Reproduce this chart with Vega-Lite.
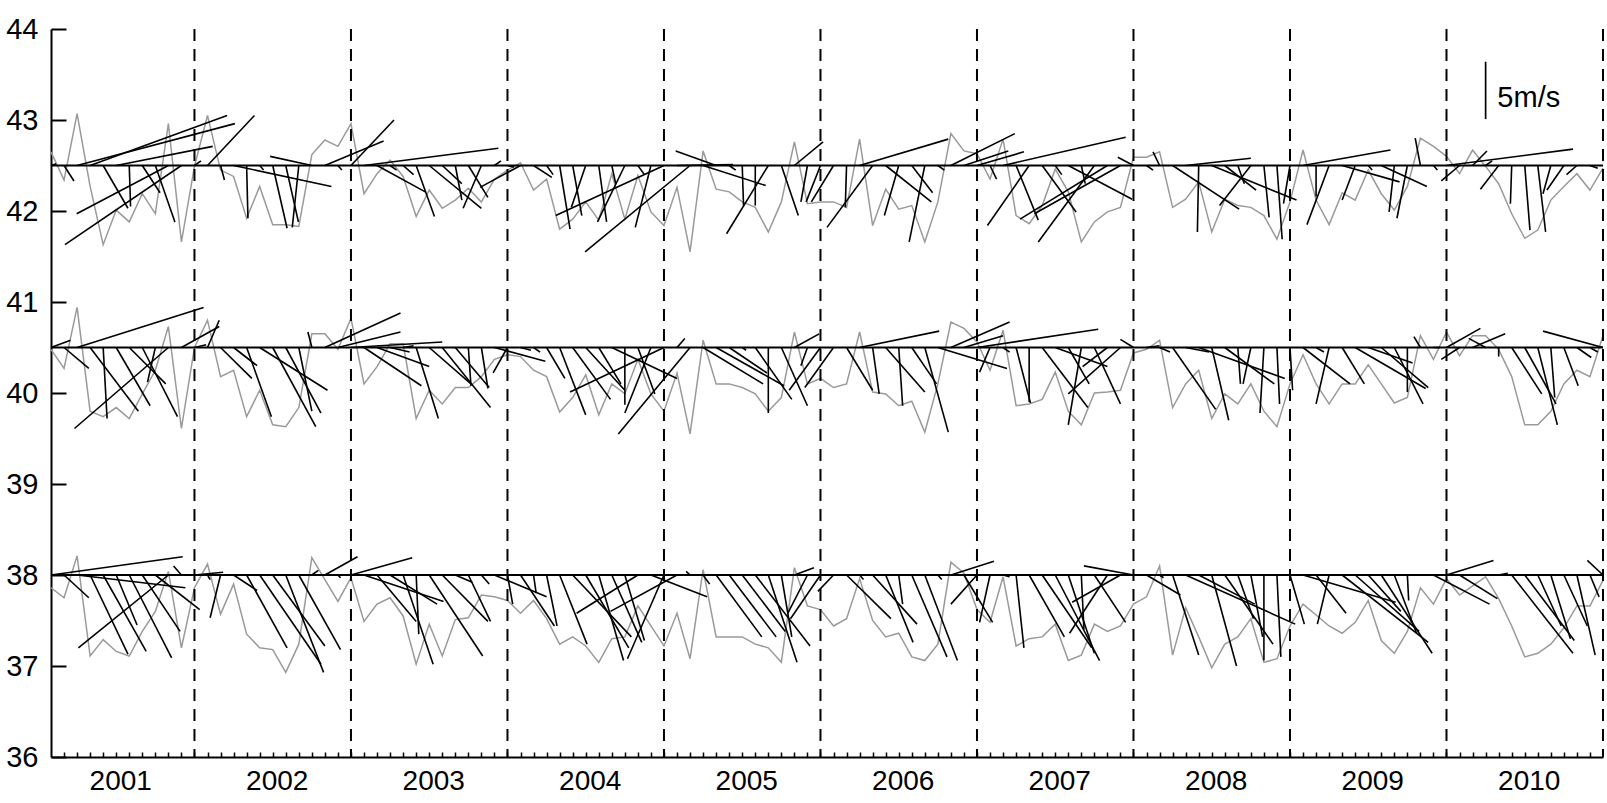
{
"$schema":"https://vega.github.io/schema/vega-lite/v6.json",
"width":1552,"height":728,
"autosize":{"type":"none"},
"padding":{"left":51,"top":29,"right":4,"bottom":46},
"background":"white",
"config":{"view":{"stroke":null},"font":"Liberation Sans"},
"resolve":{"axis":{"x":"independent","y":"independent"}},
"datasets":{
"gray":[
{"b":1,"t":1,"v":42.65},{"b":1,"t":2,"v":42.34},{"b":1,"t":3,"v":43.07},{"b":1,"t":4,"v":42.27},{"b":1,"t":5,"v":41.63},{"b":1,"t":6,"v":42.01},{"b":1,"t":7,"v":41.88},{"b":1,"t":8,"v":42.19},{"b":1,"t":9,"v":41.97},{"b":1,"t":10,"v":42.96},{"b":1,"t":11,"v":41.66},{"b":1,"t":12,"v":42.49},{"b":1,"t":13,"v":43.05},{"b":1,"t":14,"v":42.45},{"b":1,"t":15,"v":42.38},{"b":1,"t":16,"v":41.92},{"b":1,"t":17,"v":42.27},{"b":1,"t":18,"v":41.85},{"b":1,"t":19,"v":41.85},{"b":1,"t":20,"v":41.83},{"b":1,"t":21,"v":42.62},{"b":1,"t":22,"v":42.78},{"b":1,"t":23,"v":42.71},{"b":1,"t":24,"v":42.96},{"b":1,"t":25,"v":42.19},{"b":1,"t":26,"v":42.41},{"b":1,"t":27,"v":42.56},{"b":1,"t":28,"v":42.38},{"b":1,"t":29,"v":41.94},{"b":1,"t":30,"v":42.23},{"b":1,"t":31,"v":42.03},{"b":1,"t":32,"v":42.12},{"b":1,"t":33,"v":42.25},{"b":1,"t":34,"v":42.1},{"b":1,"t":35,"v":42.35},{"b":1,"t":36,"v":42.45},{"b":1,"t":37,"v":42.53},{"b":1,"t":38,"v":42.23},{"b":1,"t":39,"v":42.35},{"b":1,"t":40,"v":41.8},{"b":1,"t":41,"v":41.91},{"b":1,"t":42,"v":42.1},{"b":1,"t":43,"v":41.9},{"b":1,"t":44,"v":42.41},{"b":1,"t":45,"v":41.91},{"b":1,"t":46,"v":42.39},{"b":1,"t":47,"v":41.99},{"b":1,"t":48,"v":41.84},{"b":1,"t":49,"v":42.26},{"b":1,"t":50,"v":41.55},{"b":1,"t":51,"v":42.66},{"b":1,"t":52,"v":42.24},{"b":1,"t":53,"v":42.21},{"b":1,"t":54,"v":42.1},{"b":1,"t":55,"v":42.04},{"b":1,"t":56,"v":41.77},{"b":1,"t":57,"v":42.1},{"b":1,"t":58,"v":42.76},{"b":1,"t":59,"v":42.08},{"b":1,"t":60,"v":42.1},{"b":1,"t":61,"v":42.1},{"b":1,"t":62,"v":42.04},{"b":1,"t":63,"v":42.79},{"b":1,"t":64,"v":41.84},{"b":1,"t":65,"v":42.24},{"b":1,"t":66,"v":42.02},{"b":1,"t":67,"v":42.06},{"b":1,"t":68,"v":41.66},{"b":1,"t":69,"v":42.1},{"b":1,"t":70,"v":42.85},{"b":1,"t":71,"v":42.66},{"b":1,"t":72,"v":42.63},{"b":1,"t":73,"v":42.35},{"b":1,"t":74,"v":42.79},{"b":1,"t":75,"v":41.95},{"b":1,"t":76,"v":41.86},{"b":1,"t":77,"v":42.06},{"b":1,"t":78,"v":42.46},{"b":1,"t":79,"v":42.21},{"b":1,"t":80,"v":41.66},{"b":1,"t":81,"v":41.88},{"b":1,"t":82,"v":41.99},{"b":1,"t":83,"v":42.04},{"b":1,"t":84,"v":42.59},{"b":1,"t":85,"v":42.59},{"b":1,"t":86,"v":42.65},{"b":1,"t":87,"v":42.04},{"b":1,"t":88,"v":42.13},{"b":1,"t":89,"v":42.32},{"b":1,"t":90,"v":41.77},{"b":1,"t":91,"v":42.13},{"b":1,"t":92,"v":42.06},{"b":1,"t":93,"v":42.04},{"b":1,"t":94,"v":41.95},{"b":1,"t":95,"v":41.69},{"b":1,"t":96,"v":42.1},{"b":1,"t":97,"v":42.67},{"b":1,"t":98,"v":42.12},{"b":1,"t":99,"v":41.85},{"b":1,"t":100,"v":42.2},{"b":1,"t":101,"v":42.12},{"b":1,"t":102,"v":42.45},{"b":1,"t":103,"v":42.19},{"b":1,"t":104,"v":42.01},{"b":1,"t":105,"v":42.27},{"b":1,"t":106,"v":42.8},{"b":1,"t":107,"v":42.71},{"b":1,"t":108,"v":42.6},{"b":1,"t":109,"v":42.41},{"b":1,"t":110,"v":42.67},{"b":1,"t":111,"v":42.49},{"b":1,"t":112,"v":42.3},{"b":1,"t":113,"v":41.97},{"b":1,"t":114,"v":41.7},{"b":1,"t":115,"v":41.79},{"b":1,"t":116,"v":42.12},{"b":1,"t":117,"v":42.27},{"b":1,"t":118,"v":42.41},{"b":1,"t":119,"v":42.23},{"b":1,"t":120,"v":42.47},
{"b":2,"t":1,"v":40.48},{"b":2,"t":2,"v":40.27},{"b":2,"t":3,"v":40.94},{"b":2,"t":4,"v":39.8},{"b":2,"t":5,"v":39.74},{"b":2,"t":6,"v":39.84},{"b":2,"t":7,"v":39.72},{"b":2,"t":8,"v":39.99},{"b":2,"t":9,"v":40.25},{"b":2,"t":10,"v":40.73},{"b":2,"t":11,"v":39.61},{"b":2,"t":12,"v":40.5},{"b":2,"t":13,"v":40.8},{"b":2,"t":14,"v":40.18},{"b":2,"t":15,"v":40.25},{"b":2,"t":16,"v":39.74},{"b":2,"t":17,"v":40.03},{"b":2,"t":18,"v":39.65},{"b":2,"t":19,"v":39.63},{"b":2,"t":20,"v":39.84},{"b":2,"t":21,"v":40.65},{"b":2,"t":22,"v":40.65},{"b":2,"t":23,"v":40.48},{"b":2,"t":24,"v":40.82},{"b":2,"t":25,"v":40.1},{"b":2,"t":26,"v":40.29},{"b":2,"t":27,"v":40.54},{"b":2,"t":28,"v":40.54},{"b":2,"t":29,"v":39.72},{"b":2,"t":30,"v":40.03},{"b":2,"t":31,"v":39.88},{"b":2,"t":32,"v":40.06},{"b":2,"t":33,"v":40.06},{"b":2,"t":34,"v":40.18},{"b":2,"t":35,"v":40.37},{"b":2,"t":36,"v":40.42},{"b":2,"t":37,"v":40.4},{"b":2,"t":38,"v":40.25},{"b":2,"t":39,"v":40.18},{"b":2,"t":40,"v":39.79},{"b":2,"t":41,"v":39.95},{"b":2,"t":42,"v":40.2},{"b":2,"t":43,"v":39.76},{"b":2,"t":44,"v":40.1},{"b":2,"t":45,"v":39.99},{"b":2,"t":46,"v":40.37},{"b":2,"t":47,"v":39.99},{"b":2,"t":48,"v":39.8},{"b":2,"t":49,"v":40.22},{"b":2,"t":50,"v":39.55},{"b":2,"t":51,"v":40.58},{"b":2,"t":52,"v":40.1},{"b":2,"t":53,"v":40.1},{"b":2,"t":54,"v":40.06},{"b":2,"t":55,"v":39.99},{"b":2,"t":56,"v":39.8},{"b":2,"t":57,"v":39.95},{"b":2,"t":58,"v":40.67},{"b":2,"t":59,"v":40.1},{"b":2,"t":60,"v":40.16},{"b":2,"t":61,"v":40.06},{"b":2,"t":62,"v":40.1},{"b":2,"t":63,"v":40.67},{"b":2,"t":64,"v":40.01},{"b":2,"t":65,"v":39.99},{"b":2,"t":66,"v":39.86},{"b":2,"t":67,"v":39.91},{"b":2,"t":68,"v":39.57},{"b":2,"t":69,"v":40.1},{"b":2,"t":70,"v":40.78},{"b":2,"t":71,"v":40.71},{"b":2,"t":72,"v":40.56},{"b":2,"t":73,"v":40.25},{"b":2,"t":74,"v":40.69},{"b":2,"t":75,"v":39.86},{"b":2,"t":76,"v":39.88},{"b":2,"t":77,"v":39.93},{"b":2,"t":78,"v":40.23},{"b":2,"t":79,"v":39.8},{"b":2,"t":80,"v":39.65},{"b":2,"t":81,"v":40.0},{"b":2,"t":82,"v":40.01},{"b":2,"t":83,"v":40.03},{"b":2,"t":84,"v":40.44},{"b":2,"t":85,"v":40.48},{"b":2,"t":86,"v":40.58},{"b":2,"t":87,"v":39.84},{"b":2,"t":88,"v":40.1},{"b":2,"t":89,"v":40.25},{"b":2,"t":90,"v":39.72},{"b":2,"t":91,"v":39.99},{"b":2,"t":92,"v":39.88},{"b":2,"t":93,"v":40.1},{"b":2,"t":94,"v":39.8},{"b":2,"t":95,"v":39.63},{"b":2,"t":96,"v":40.1},{"b":2,"t":97,"v":40.42},{"b":2,"t":98,"v":40.1},{"b":2,"t":99,"v":39.88},{"b":2,"t":100,"v":40.1},{"b":2,"t":101,"v":40.1},{"b":2,"t":102,"v":40.31},{"b":2,"t":103,"v":40.1},{"b":2,"t":104,"v":39.89},{"b":2,"t":105,"v":39.95},{"b":2,"t":106,"v":40.63},{"b":2,"t":107,"v":40.37},{"b":2,"t":108,"v":40.67},{"b":2,"t":109,"v":40.41},{"b":2,"t":110,"v":40.63},{"b":2,"t":111,"v":40.63},{"b":2,"t":112,"v":40.48},{"b":2,"t":113,"v":40.18},{"b":2,"t":114,"v":39.65},{"b":2,"t":115,"v":39.65},{"b":2,"t":116,"v":39.8},{"b":2,"t":117,"v":40.1},{"b":2,"t":118,"v":40.25},{"b":2,"t":119,"v":40.18},{"b":2,"t":120,"v":40.63},
{"b":3,"t":1,"v":37.86},{"b":3,"t":2,"v":37.75},{"b":3,"t":3,"v":38.21},{"b":3,"t":4,"v":37.11},{"b":3,"t":5,"v":37.29},{"b":3,"t":6,"v":37.16},{"b":3,"t":7,"v":37.11},{"b":3,"t":8,"v":37.38},{"b":3,"t":9,"v":37.6},{"b":3,"t":10,"v":38.04},{"b":3,"t":11,"v":37.2},{"b":3,"t":12,"v":37.86},{"b":3,"t":13,"v":38.12},{"b":3,"t":14,"v":37.57},{"b":3,"t":15,"v":37.9},{"b":3,"t":16,"v":37.35},{"b":3,"t":17,"v":37.2},{"b":3,"t":18,"v":37.18},{"b":3,"t":19,"v":36.93},{"b":3,"t":20,"v":37.24},{"b":3,"t":21,"v":38.19},{"b":3,"t":22,"v":37.95},{"b":3,"t":23,"v":37.71},{"b":3,"t":24,"v":37.97},{"b":3,"t":25,"v":37.49},{"b":3,"t":26,"v":37.68},{"b":3,"t":27,"v":37.75},{"b":3,"t":28,"v":37.55},{"b":3,"t":29,"v":37.02},{"b":3,"t":30,"v":37.46},{"b":3,"t":31,"v":37.11},{"b":3,"t":32,"v":37.51},{"b":3,"t":33,"v":37.53},{"b":3,"t":34,"v":37.78},{"b":3,"t":35,"v":37.76},{"b":3,"t":36,"v":37.72},{"b":3,"t":37,"v":37.58},{"b":3,"t":38,"v":37.72},{"b":3,"t":39,"v":37.52},{"b":3,"t":40,"v":37.24},{"b":3,"t":41,"v":37.32},{"b":3,"t":42,"v":37.22},{"b":3,"t":43,"v":37.04},{"b":3,"t":44,"v":37.3},{"b":3,"t":45,"v":37.32},{"b":3,"t":46,"v":37.66},{"b":3,"t":47,"v":37.44},{"b":3,"t":48,"v":37.22},{"b":3,"t":49,"v":37.58},{"b":3,"t":50,"v":37.08},{"b":3,"t":51,"v":38.06},{"b":3,"t":52,"v":37.32},{"b":3,"t":53,"v":37.32},{"b":3,"t":54,"v":37.32},{"b":3,"t":55,"v":37.24},{"b":3,"t":56,"v":37.2},{"b":3,"t":57,"v":37.04},{"b":3,"t":58,"v":38.08},{"b":3,"t":59,"v":37.66},{"b":3,"t":60,"v":37.62},{"b":3,"t":61,"v":37.44},{"b":3,"t":62,"v":37.52},{"b":3,"t":63,"v":37.96},{"b":3,"t":64,"v":37.5},{"b":3,"t":65,"v":37.32},{"b":3,"t":66,"v":37.36},{"b":3,"t":67,"v":37.1},{"b":3,"t":68,"v":37.06},{"b":3,"t":69,"v":37.24},{"b":3,"t":70,"v":38.14},{"b":3,"t":71,"v":38.02},{"b":3,"t":72,"v":37.62},{"b":3,"t":73,"v":37.48},{"b":3,"t":74,"v":37.98},{"b":3,"t":75,"v":37.22},{"b":3,"t":76,"v":37.3},{"b":3,"t":77,"v":37.32},{"b":3,"t":78,"v":37.46},{"b":3,"t":79,"v":37.06},{"b":3,"t":80,"v":37.12},{"b":3,"t":81,"v":37.46},{"b":3,"t":82,"v":37.38},{"b":3,"t":83,"v":37.44},{"b":3,"t":84,"v":37.68},{"b":3,"t":85,"v":37.76},{"b":3,"t":86,"v":38.1},{"b":3,"t":87,"v":37.12},{"b":3,"t":88,"v":37.64},{"b":3,"t":89,"v":37.32},{"b":3,"t":90,"v":36.98},{"b":3,"t":91,"v":37.24},{"b":3,"t":92,"v":37.32},{"b":3,"t":93,"v":37.52},{"b":3,"t":94,"v":37.04},{"b":3,"t":95,"v":37.08},{"b":3,"t":96,"v":37.44},{"b":3,"t":97,"v":37.68},{"b":3,"t":98,"v":37.56},{"b":3,"t":99,"v":37.44},{"b":3,"t":100,"v":37.36},{"b":3,"t":101,"v":37.48},{"b":3,"t":102,"v":37.72},{"b":3,"t":103,"v":37.28},{"b":3,"t":104,"v":37.14},{"b":3,"t":105,"v":37.38},{"b":3,"t":106,"v":37.86},{"b":3,"t":107,"v":37.68},{"b":3,"t":108,"v":37.96},{"b":3,"t":109,"v":37.78},{"b":3,"t":110,"v":37.88},{"b":3,"t":111,"v":37.98},{"b":3,"t":112,"v":37.74},{"b":3,"t":113,"v":37.44},{"b":3,"t":114,"v":37.1},{"b":3,"t":115,"v":37.14},{"b":3,"t":116,"v":37.24},{"b":3,"t":117,"v":37.42},{"b":3,"t":118,"v":37.66},{"b":3,"t":119,"v":37.66},{"b":3,"t":120,"v":37.94}
],
"sticks":[
{"t":1,"y0":42.5,"t2":1.4,"y2":42.52},{"t":2,"y0":42.5,"t2":2.76,"y2":42.33},{"t":3,"y0":42.5,"t2":15.1,"y2":42.96},{"t":4,"y0":42.5,"t2":14.5,"y2":43.05},{"t":5,"y0":42.5,"t2":6.9,"y2":42.03},{"t":6,"y0":42.5,"t2":13.4,"y2":42.71},{"t":7,"y0":42.5,"t2":7.1,"y2":42.05},{"t":8,"y0":42.5,"t2":9.36,"y2":42.2},{"t":9,"y0":42.5,"t2":10.5,"y2":41.88},{"t":10,"y0":42.5,"t2":2.97,"y2":41.97},{"t":11,"y0":42.5,"t2":2.07,"y2":41.63},{"t":12,"y0":42.5,"t2":12.5,"y2":42.55},{"t":13,"y0":42.5,"t2":16.6,"y2":43.05},{"t":14,"y0":42.5,"t2":14.3,"y2":42.34},{"t":15,"y0":42.5,"t2":22.5,"y2":42.27},{"t":16,"y0":42.5,"t2":16.1,"y2":41.92},{"t":17,"y0":42.5,"t2":17.3,"y2":42.45},{"t":18,"y0":42.5,"t2":19.1,"y2":41.81},{"t":19,"y0":42.5,"t2":19.97,"y2":41.88},{"t":20,"y0":42.5,"t2":19.5,"y2":41.82},{"t":21,"y0":42.5,"t2":17.8,"y2":42.6},{"t":22,"y0":42.5,"t2":26.5,"y2":42.77},{"t":23,"y0":42.5,"t2":23.3,"y2":42.45},{"t":24,"y0":42.5,"t2":27.3,"y2":43.0},{"t":25,"y0":42.5,"t2":35.3,"y2":42.69},{"t":26,"y0":42.5,"t2":29.7,"y2":42.21},{"t":27,"y0":42.5,"t2":27.5,"y2":42.45},{"t":28,"y0":42.5,"t2":28.8,"y2":42.4},{"t":29,"y0":42.5,"t2":30.4,"y2":41.94},{"t":30,"y0":42.5,"t2":34.0,"y2":42.03},{"t":31,"y0":42.5,"t2":32.5,"y2":42.3},{"t":32,"y0":42.5,"t2":32.5,"y2":42.12},{"t":33,"y0":42.5,"t2":34.5,"y2":42.15},{"t":34,"y0":42.5,"t2":32.6,"y2":42.03},{"t":35,"y0":42.5,"t2":35.5,"y2":42.55},{"t":36,"y0":42.5,"t2":36.5,"y2":42.48},{"t":37,"y0":42.5,"t2":33.9,"y2":42.26},{"t":38,"y0":42.5,"t2":39.4,"y2":42.37},{"t":39,"y0":42.5,"t2":39.5,"y2":42.4},{"t":40,"y0":42.5,"t2":40.8,"y2":41.8},{"t":41,"y0":42.5,"t2":41.7,"y2":41.95},{"t":42,"y0":42.5,"t2":40.9,"y2":42.04},{"t":43,"y0":42.5,"t2":43.6,"y2":41.88},{"t":44,"y0":42.5,"t2":44.3,"y2":42.3},{"t":45,"y0":42.5,"t2":42.9,"y2":41.88},{"t":46,"y0":42.5,"t2":46.5,"y2":42.4},{"t":47,"y0":42.5,"t2":45.8,"y2":41.82},{"t":48,"y0":42.5,"t2":39.7,"y2":41.95},{"t":49,"y0":42.5,"t2":53.3,"y2":42.51},{"t":50,"y0":42.5,"t2":41.95,"y2":41.55},{"t":51,"y0":42.5,"t2":55.8,"y2":42.28},{"t":52,"y0":42.5,"t2":48.9,"y2":42.66},{"t":53,"y0":42.5,"t2":53.5,"y2":42.45},{"t":54,"y0":42.5,"t2":54.1,"y2":42.06},{"t":55,"y0":42.5,"t2":55.0,"y2":42.06},{"t":56,"y0":42.5,"t2":52.8,"y2":41.75},{"t":57,"y0":42.5,"t2":58.3,"y2":41.95},{"t":58,"y0":42.5,"t2":60.2,"y2":42.76},{"t":59,"y0":42.5,"t2":58.5,"y2":42.1},{"t":60,"y0":42.5,"t2":58.9,"y2":42.1},{"t":61,"y0":42.5,"t2":59.3,"y2":42.1},{"t":62,"y0":42.5,"t2":61.9,"y2":42.04},{"t":63,"y0":42.5,"t2":69.8,"y2":42.79},{"t":64,"y0":42.5,"t2":60.5,"y2":41.82},{"t":65,"y0":42.5,"t2":68.5,"y2":42.1},{"t":66,"y0":42.5,"t2":64.9,"y2":41.95},{"t":67,"y0":42.5,"t2":68.6,"y2":42.2},{"t":68,"y0":42.5,"t2":66.8,"y2":41.66},{"t":69,"y0":42.5,"t2":69.5,"y2":42.45},{"t":70,"y0":42.5,"t2":74.9,"y2":42.85},{"t":71,"y0":42.5,"t2":74.4,"y2":42.66},{"t":72,"y0":42.5,"t2":75.6,"y2":42.65},{"t":73,"y0":42.5,"t2":73.5,"y2":42.35},{"t":74,"y0":42.5,"t2":83.4,"y2":42.81},{"t":75,"y0":42.5,"t2":76.7,"y2":41.9},{"t":76,"y0":42.5,"t2":72.8,"y2":41.84},{"t":77,"y0":42.5,"t2":79.6,"y2":41.99},{"t":78,"y0":42.5,"t2":78.5,"y2":42.4},{"t":79,"y0":42.5,"t2":83.9,"y2":42.13},{"t":80,"y0":42.5,"t2":80.3,"y2":42.3},{"t":81,"y0":42.5,"t2":76.7,"y2":41.66},{"t":82,"y0":42.5,"t2":75.3,"y2":41.91},{"t":83,"y0":42.5,"t2":76.4,"y2":41.97},{"t":84,"y0":42.5,"t2":82.8,"y2":42.59},{"t":85,"y0":42.5,"t2":85.5,"y2":42.45},{"t":86,"y0":42.5,"t2":85.5,"y2":42.65},{"t":87,"y0":42.5,"t2":92.1,"y2":42.02},{"t":88,"y0":42.5,"t2":93.0,"y2":42.58},{"t":89,"y0":42.5,"t2":88.9,"y2":41.77},{"t":90,"y0":42.5,"t2":96.5,"y2":42.12},{"t":91,"y0":42.5,"t2":93.4,"y2":42.23},{"t":92,"y0":42.5,"t2":92.5,"y2":42.3},{"t":93,"y0":42.5,"t2":90.6,"y2":42.06},{"t":94,"y0":42.5,"t2":94.4,"y2":41.93},{"t":95,"y0":42.5,"t2":95.4,"y2":41.69},{"t":96,"y0":42.5,"t2":95.5,"y2":42.08},{"t":97,"y0":42.5,"t2":103.7,"y2":42.67},{"t":98,"y0":42.5,"t2":98.0,"y2":42.16},{"t":99,"y0":42.5,"t2":97.3,"y2":41.85},{"t":100,"y0":42.5,"t2":104.4,"y2":42.32},{"t":101,"y0":42.5,"t2":100.0,"y2":42.12},{"t":102,"y0":42.5,"t2":102.3,"y2":42.45},{"t":103,"y0":42.5,"t2":106.5,"y2":42.27},{"t":104,"y0":42.5,"t2":103.6,"y2":41.99},{"t":105,"y0":42.5,"t2":104.2,"y2":41.92},{"t":106,"y0":42.5,"t2":105.6,"y2":42.8},{"t":107,"y0":42.5,"t2":107.3,"y2":42.45},{"t":108,"y0":42.5,"t2":117.7,"y2":42.68},{"t":109,"y0":42.5,"t2":107.6,"y2":42.33},{"t":110,"y0":42.5,"t2":111.1,"y2":42.66},{"t":111,"y0":42.5,"t2":111.5,"y2":42.55},{"t":112,"y0":42.5,"t2":110.6,"y2":42.24},{"t":113,"y0":42.5,"t2":112.9,"y2":42.08},{"t":114,"y0":42.5,"t2":114.4,"y2":41.79},{"t":115,"y0":42.5,"t2":115.6,"y2":41.77},{"t":116,"y0":42.5,"t2":115.4,"y2":42.19},{"t":117,"y0":42.5,"t2":115.7,"y2":42.23},{"t":118,"y0":42.5,"t2":117.2,"y2":42.4},{"t":119,"y0":42.5,"t2":119.6,"y2":42.47},
{"t":1,"y0":40.5,"t2":2.5,"y2":40.58},{"t":2,"y0":40.5,"t2":3.9,"y2":40.27},{"t":3,"y0":40.5,"t2":12.7,"y2":40.94},{"t":4,"y0":40.5,"t2":7.7,"y2":39.8},{"t":5,"y0":40.5,"t2":5.3,"y2":39.72},{"t":6,"y0":40.5,"t2":8.6,"y2":39.86},{"t":7,"y0":40.5,"t2":9.8,"y2":40.1},{"t":8,"y0":40.5,"t2":10.7,"y2":39.74},{"t":9,"y0":40.5,"t2":8.4,"y2":40.12},{"t":10,"y0":40.5,"t2":2.8,"y2":39.61},{"t":11,"y0":40.5,"t2":13.9,"y2":40.73},{"t":12,"y0":40.5,"t2":12.9,"y2":40.53},{"t":13,"y0":40.5,"t2":13.9,"y2":40.8},{"t":14,"y0":40.5,"t2":16.4,"y2":40.16},{"t":15,"y0":40.5,"t2":16.8,"y2":40.3},{"t":16,"y0":40.5,"t2":17.9,"y2":39.74},{"t":17,"y0":40.5,"t2":22.2,"y2":40.03},{"t":18,"y0":40.5,"t2":21.3,"y2":39.63},{"t":19,"y0":40.5,"t2":21.7,"y2":39.78},{"t":20,"y0":40.5,"t2":21.0,"y2":39.8},{"t":21,"y0":40.5,"t2":20.7,"y2":40.67},{"t":22,"y0":40.5,"t2":27.8,"y2":40.88},{"t":23,"y0":40.5,"t2":27.8,"y2":40.67},{"t":24,"y0":40.5,"t2":31.0,"y2":40.56},{"t":25,"y0":40.5,"t2":29.4,"y2":40.08},{"t":26,"y0":40.5,"t2":30.0,"y2":40.29},{"t":27,"y0":40.5,"t2":28.5,"y2":40.45},{"t":28,"y0":40.5,"t2":28.8,"y2":40.52},{"t":29,"y0":40.5,"t2":30.7,"y2":39.72},{"t":30,"y0":40.5,"t2":33.2,"y2":40.1},{"t":31,"y0":40.5,"t2":34.7,"y2":39.84},{"t":32,"y0":40.5,"t2":34.6,"y2":40.06},{"t":33,"y0":40.5,"t2":33.2,"y2":40.08},{"t":34,"y0":40.5,"t2":34.5,"y2":40.05},{"t":35,"y0":40.5,"t2":38.9,"y2":40.35},{"t":36,"y0":40.5,"t2":34.9,"y2":40.22},{"t":37,"y0":40.5,"t2":37.8,"y2":40.47},{"t":38,"y0":40.5,"t2":38.5,"y2":40.45},{"t":39,"y0":40.5,"t2":40.4,"y2":40.16},{"t":40,"y0":40.5,"t2":42.0,"y2":39.76},{"t":41,"y0":40.5,"t2":43.9,"y2":39.93},{"t":42,"y0":40.5,"t2":45.0,"y2":40.03},{"t":43,"y0":40.5,"t2":44.7,"y2":40.1},{"t":44,"y0":40.5,"t2":49.0,"y2":40.16},{"t":45,"y0":40.5,"t2":45.0,"y2":39.87},{"t":46,"y0":40.5,"t2":47.3,"y2":39.99},{"t":47,"y0":40.5,"t2":45.0,"y2":39.78},{"t":48,"y0":40.5,"t2":40.8,"y2":40.01},{"t":49,"y0":40.5,"t2":49.6,"y2":40.6},{"t":50,"y0":40.5,"t2":44.5,"y2":39.55},{"t":51,"y0":40.5,"t2":55.6,"y2":40.1},{"t":52,"y0":40.5,"t2":57.2,"y2":40.08},{"t":53,"y0":40.5,"t2":55.9,"y2":40.22},{"t":54,"y0":40.5,"t2":54.3,"y2":40.47},{"t":55,"y0":40.5,"t2":57.8,"y2":39.93},{"t":56,"y0":40.5,"t2":56.0,"y2":39.78},{"t":57,"y0":40.5,"t2":59.0,"y2":39.86},{"t":58,"y0":40.5,"t2":59.9,"y2":40.65},{"t":59,"y0":40.5,"t2":58.5,"y2":40.3},{"t":60,"y0":40.5,"t2":57.6,"y2":40.03},{"t":61,"y0":40.5,"t2":58.8,"y2":40.06},{"t":62,"y0":40.5,"t2":64.0,"y2":40.03},{"t":63,"y0":40.5,"t2":69.1,"y2":40.68},{"t":64,"y0":40.5,"t2":64.5,"y2":39.99},{"t":65,"y0":40.5,"t2":68.0,"y2":40.01},{"t":66,"y0":40.5,"t2":66.3,"y2":39.86},{"t":67,"y0":40.5,"t2":68.9,"y2":40.1},{"t":68,"y0":40.5,"t2":69.8,"y2":39.57},{"t":69,"y0":40.5,"t2":74.3,"y2":40.27},{"t":70,"y0":40.5,"t2":74.5,"y2":40.78},{"t":71,"y0":40.5,"t2":74.0,"y2":40.63},{"t":72,"y0":40.5,"t2":81.3,"y2":40.7},{"t":73,"y0":40.5,"t2":72.2,"y2":40.23},{"t":74,"y0":40.5,"t2":74.5,"y2":40.45},{"t":75,"y0":40.5,"t2":76.1,"y2":39.89},{"t":76,"y0":40.5,"t2":76.0,"y2":39.9},{"t":77,"y0":40.5,"t2":80.5,"y2":39.84},{"t":78,"y0":40.5,"t2":82.0,"y2":40.29},{"t":79,"y0":40.5,"t2":80.6,"y2":40.1},{"t":80,"y0":40.5,"t2":79.0,"y2":39.65},{"t":81,"y0":40.5,"t2":83.0,"y2":39.88},{"t":82,"y0":40.5,"t2":80.1,"y2":40.29},{"t":83,"y0":40.5,"t2":79.0,"y2":39.99},{"t":84,"y0":40.5,"t2":83.0,"y2":40.59},{"t":85,"y0":40.5,"t2":86.0,"y2":40.52},{"t":86,"y0":40.5,"t2":86.8,"y2":40.45},{"t":87,"y0":40.5,"t2":90.3,"y2":39.82},{"t":88,"y0":40.5,"t2":89.8,"y2":40.45},{"t":89,"y0":40.5,"t2":95.6,"y2":40.16},{"t":90,"y0":40.5,"t2":91.3,"y2":39.7},{"t":91,"y0":40.5,"t2":94.8,"y2":40.1},{"t":92,"y0":40.5,"t2":92.2,"y2":40.1},{"t":93,"y0":40.5,"t2":92.4,"y2":40.1},{"t":94,"y0":40.5,"t2":93.7,"y2":39.78},{"t":95,"y0":40.5,"t2":95.2,"y2":39.88},{"t":96,"y0":40.5,"t2":96.2,"y2":40.03},{"t":97,"y0":40.5,"t2":100.6,"y2":40.1},{"t":98,"y0":40.5,"t2":98.6,"y2":40.45},{"t":99,"y0":40.5,"t2":98.0,"y2":39.88},{"t":100,"y0":40.5,"t2":101.7,"y2":40.1},{"t":101,"y0":40.5,"t2":106.4,"y2":40.05},{"t":102,"y0":40.5,"t2":105.4,"y2":40.33},{"t":103,"y0":40.5,"t2":106.6,"y2":40.06},{"t":104,"y0":40.5,"t2":106.2,"y2":39.88},{"t":105,"y0":40.5,"t2":105.0,"y2":40.01},{"t":106,"y0":40.5,"t2":105.5,"y2":40.62},{"t":107,"y0":40.5,"t2":107.5,"y2":40.5},{"t":108,"y0":40.5,"t2":110.6,"y2":40.71},{"t":109,"y0":40.5,"t2":107.6,"y2":40.37},{"t":110,"y0":40.5,"t2":112.5,"y2":40.65},{"t":111,"y0":40.5,"t2":109.7,"y2":40.6},{"t":112,"y0":40.5,"t2":112.0,"y2":40.4},{"t":113,"y0":40.5,"t2":115.3,"y2":39.99},{"t":114,"y0":40.5,"t2":116.4,"y2":39.88},{"t":115,"y0":40.5,"t2":116.5,"y2":39.65},{"t":116,"y0":40.5,"t2":116.3,"y2":39.95},{"t":117,"y0":40.5,"t2":118.1,"y2":40.08},{"t":118,"y0":40.5,"t2":119.1,"y2":40.39},{"t":119,"y0":40.5,"t2":119.6,"y2":40.45},{"t":120,"y0":40.5,"t2":115.4,"y2":40.68},
{"t":1,"y0":38,"t2":11.1,"y2":38.2},{"t":2,"y0":38,"t2":3.9,"y2":37.75},{"t":3,"y0":38,"t2":11.3,"y2":37.86},{"t":4,"y0":38,"t2":6.9,"y2":37.13},{"t":5,"y0":38,"t2":8.3,"y2":37.16},{"t":6,"y0":38,"t2":7.6,"y2":37.45},{"t":7,"y0":38,"t2":10.25,"y2":37.09},{"t":8,"y0":38,"t2":10.9,"y2":37.38},{"t":9,"y0":38,"t2":12.4,"y2":37.62},{"t":10,"y0":38,"t2":3.1,"y2":37.2},{"t":11,"y0":38,"t2":10.4,"y2":38.1},{"t":12,"y0":38,"t2":14.2,"y2":38.03},{"t":13,"y0":38,"t2":13.2,"y2":37.95},{"t":14,"y0":38,"t2":13.2,"y2":37.53},{"t":15,"y0":38,"t2":16.8,"y2":37.83},{"t":16,"y0":38,"t2":19.1,"y2":37.2},{"t":17,"y0":38,"t2":21.7,"y2":37.02},{"t":18,"y0":38,"t2":22.0,"y2":37.22},{"t":19,"y0":38,"t2":21.9,"y2":36.93},{"t":20,"y0":38,"t2":23.2,"y2":37.18},{"t":21,"y0":38,"t2":21.5,"y2":38.05},{"t":22,"y0":38,"t2":24.5,"y2":38.2},{"t":23,"y0":38,"t2":23.2,"y2":37.97},{"t":24,"y0":38,"t2":28.7,"y2":38.19},{"t":25,"y0":38,"t2":31.1,"y2":37.71},{"t":26,"y0":38,"t2":29.0,"y2":37.49},{"t":27,"y0":38,"t2":30.6,"y2":37.68},{"t":28,"y0":38,"t2":30.3,"y2":37.02},{"t":29,"y0":38,"t2":29.2,"y2":37.35},{"t":30,"y0":38,"t2":34.1,"y2":37.11},{"t":31,"y0":38,"t2":34.5,"y2":37.49},{"t":32,"y0":38,"t2":33.3,"y2":37.92},{"t":33,"y0":38,"t2":34.7,"y2":37.49},{"t":34,"y0":38,"t2":34.6,"y2":37.9},{"t":35,"y0":38,"t2":39.0,"y2":37.76},{"t":36,"y0":38,"t2":36.4,"y2":37.68},{"t":37,"y0":38,"t2":39.6,"y2":37.44},{"t":38,"y0":38,"t2":38.2,"y2":37.8},{"t":39,"y0":38,"t2":39.8,"y2":37.44},{"t":40,"y0":38,"t2":42.1,"y2":37.24},{"t":41,"y0":38,"t2":45.5,"y2":37.32},{"t":42,"y0":38,"t2":45.3,"y2":37.2},{"t":43,"y0":38,"t2":44.9,"y2":37.06},{"t":44,"y0":38,"t2":46.3,"y2":37.26},{"t":45,"y0":38,"t2":46.5,"y2":37.28},{"t":46,"y0":38,"t2":41.3,"y2":37.58},{"t":47,"y0":38,"t2":51.3,"y2":37.76},{"t":48,"y0":38,"t2":45.2,"y2":37.08},{"t":49,"y0":38,"t2":43.9,"y2":37.6},{"t":50,"y0":38,"t2":49.7,"y2":38.04},{"t":51,"y0":38,"t2":51.5,"y2":37.9},{"t":52,"y0":38,"t2":55.5,"y2":37.32},{"t":53,"y0":38,"t2":56.6,"y2":37.32},{"t":54,"y0":38,"t2":57.3,"y2":37.38},{"t":55,"y0":38,"t2":59.2,"y2":37.22},{"t":56,"y0":38,"t2":58.2,"y2":37.04},{"t":57,"y0":38,"t2":57.8,"y2":37.32},{"t":58,"y0":38,"t2":59.5,"y2":38.08},{"t":59,"y0":38,"t2":57.5,"y2":37.58},{"t":60,"y0":38,"t2":57.7,"y2":37.52},{"t":61,"y0":38,"t2":59.8,"y2":37.82},{"t":62,"y0":38,"t2":65.4,"y2":37.52},{"t":63,"y0":38,"t2":63.3,"y2":37.95},{"t":64,"y0":38,"t2":67.4,"y2":37.46},{"t":65,"y0":38,"t2":67.1,"y2":37.26},{"t":66,"y0":38,"t2":66.3,"y2":37.68},{"t":67,"y0":38,"t2":69.7,"y2":37.1},{"t":68,"y0":38,"t2":70.5,"y2":37.06},{"t":69,"y0":38,"t2":69.3,"y2":37.95},{"t":70,"y0":38,"t2":73.3,"y2":38.15},{"t":71,"y0":38,"t2":73.2,"y2":37.48},{"t":72,"y0":38,"t2":70.0,"y2":37.68},{"t":73,"y0":38,"t2":72.2,"y2":37.48},{"t":74,"y0":38,"t2":74.5,"y2":37.98},{"t":75,"y0":38,"t2":75.6,"y2":37.2},{"t":76,"y0":38,"t2":78.7,"y2":37.32},{"t":77,"y0":38,"t2":80.8,"y2":37.2},{"t":78,"y0":38,"t2":81.4,"y2":37.06},{"t":79,"y0":38,"t2":81.0,"y2":37.14},{"t":80,"y0":38,"t2":80.2,"y2":37.4},{"t":81,"y0":38,"t2":83.4,"y2":37.48},{"t":82,"y0":38,"t2":79.1,"y2":37.36},{"t":83,"y0":38,"t2":79.3,"y2":37.7},{"t":84,"y0":38,"t2":80.2,"y2":38.1},{"t":85,"y0":38,"t2":87.6,"y2":37.78},{"t":86,"y0":38,"t2":86.3,"y2":37.97},{"t":87,"y0":38,"t2":89.0,"y2":37.12},{"t":88,"y0":38,"t2":96.4,"y2":37.46},{"t":89,"y0":38,"t2":93.3,"y2":37.68},{"t":90,"y0":38,"t2":91.9,"y2":37.0},{"t":91,"y0":38,"t2":94.7,"y2":37.24},{"t":92,"y0":38,"t2":93.2,"y2":37.52},{"t":93,"y0":38,"t2":93.9,"y2":37.32},{"t":94,"y0":38,"t2":94.0,"y2":37.06},{"t":95,"y0":38,"t2":95.3,"y2":37.1},{"t":96,"y0":38,"t2":97.1,"y2":37.46},{"t":97,"y0":38,"t2":104.1,"y2":37.7},{"t":98,"y0":38,"t2":100.3,"y2":37.58},{"t":99,"y0":38,"t2":98.1,"y2":37.46},{"t":100,"y0":38,"t2":106.6,"y2":37.26},{"t":101,"y0":38,"t2":105.9,"y2":37.38},{"t":102,"y0":38,"t2":104.5,"y2":37.6},{"t":103,"y0":38,"t2":106.9,"y2":37.14},{"t":104,"y0":38,"t2":105.7,"y2":37.36},{"t":105,"y0":38,"t2":105.1,"y2":37.72},{"t":107,"y0":38,"t2":111.3,"y2":37.68},{"t":108,"y0":38,"t2":111.6,"y2":38.16},{"t":109,"y0":38,"t2":111.9,"y2":37.74},{"t":112,"y0":38,"t2":112.7,"y2":38.02},{"t":113,"y0":38,"t2":117.7,"y2":37.14},{"t":114,"y0":38,"t2":117.8,"y2":37.28},{"t":115,"y0":38,"t2":116.8,"y2":37.44},{"t":116,"y0":38,"t2":117.5,"y2":37.3},{"t":117,"y0":38,"t2":118.8,"y2":37.44},{"t":118,"y0":38,"t2":119.4,"y2":37.12},{"t":119,"y0":38,"t2":119.7,"y2":37.76},{"t":120,"y0":38,"t2":118.8,"y2":38.16}
]
},
"layer":[
{"data":{"name":"gray"},
 "mark":{"type":"line","stroke":"#9a9a9a","strokeWidth":1.5},
 "encoding":{
  "x":{"field":"t","type":"quantitative","scale":{"domain":[1,120],"nice":false,"zero":false},
   "axis":{"orient":"bottom","values":[2,3,4,5,6,7,8,9,10,11,12,13,14,15,16,17,18,19,20,21,22,23,24,25,26,27,28,29,30,31,32,33,34,35,36,37,38,39,40,41,42,43,44,45,46,47,48,49,50,51,52,53,54,55,56,57,58,59,60,61,62,63,64,65,66,67,68,69,70,71,72,73,74,75,76,77,78,79,80,81,82,83,84,85,86,87,88,89,90,91,92,93,94,95,96,97,98,99,100,101,102,103,104,105,106,107,108,109,110,111,112,113,114,115,116,117,118,119],
    "labelExpr":"datum.value % 12 == 6 ? toString(2001 + floor(datum.value / 12)) : ''",
    "labelAlign":"center","labelOffset":4,"labelOverlap":false,"labelFlush":false,"labelBound":false,
    "tickSize":-5,"tickWidth":1.5,"tickColor":"black","labelPadding":15,
    "labelFontSize":28,"labelFont":"Liberation Sans","labelColor":"black",
    "domainColor":"black","domainWidth":2,"grid":false,"title":null}},
  "y":{"field":"v","type":"quantitative","scale":{"domain":[36,44],"nice":false,"zero":false},
   "axis":{"orient":"left","values":[36,37,38,39,40,41,42,43,44],"tickSize":-15,"tickWidth":2,"tickColor":"black","labelPadding":28,
    "labelFontSize":29,"labelFont":"Liberation Sans","labelColor":"black",
    "domainColor":"black","domainWidth":2,"grid":false,"title":null}},
  "detail":{"field":"b","type":"nominal"}
 }},
{"data":{"values":[{"y0":42.5},{"y0":40.5},{"y0":38}]},
 "mark":{"type":"rule","stroke":"black","strokeWidth":2},
 "encoding":{"y":{"field":"y0","type":"quantitative","scale":{"domain":[36,44],"nice":false,"zero":false},"axis":null}}},
{"data":{"name":"sticks"},
 "mark":{"type":"rule","stroke":"black","strokeWidth":1.6},
 "encoding":{
  "x":{"field":"t","type":"quantitative","scale":{"domain":[1,120],"nice":false,"zero":false},"axis":null},
  "y":{"field":"y0","type":"quantitative","scale":{"domain":[36,44],"nice":false,"zero":false},"axis":null},
  "x2":{"field":"t2"},"y2":{"field":"y2"}}},
{"data":{"values":[{"yr":12},{"yr":24},{"yr":36},{"yr":48},{"yr":60},{"yr":72},{"yr":84},{"yr":96},{"yr":108},{"yr":120}]},
 "mark":{"type":"rule","stroke":"black","strokeWidth":2,"strokeDash":[12,8]},
 "encoding":{"x":{"field":"yr","type":"quantitative","scale":{"domain":[1,120],"nice":false,"zero":false},"axis":null}}},
{"data":{"values":[{"t":111,"a":43.01,"b":43.64}]},
 "mark":{"type":"rule","stroke":"black","strokeWidth":1.7},
 "encoding":{"x":{"field":"t","type":"quantitative","scale":{"domain":[1,120],"nice":false,"zero":false},"axis":null},
  "y":{"field":"a","type":"quantitative","scale":{"domain":[36,44],"nice":false,"zero":false},"axis":null},
  "y2":{"field":"b"}}},
{"data":{"values":[{"t":111.9,"v":43.24,"label":"5m/s"}]},
 "mark":{"type":"text","align":"left","baseline":"middle","fontSize":29,"font":"Liberation Sans","color":"black"},
 "encoding":{"x":{"field":"t","type":"quantitative","scale":{"domain":[1,120],"nice":false,"zero":false},"axis":null},
  "y":{"field":"v","type":"quantitative","scale":{"domain":[36,44],"nice":false,"zero":false},"axis":null},
  "text":{"field":"label"}}}
]
}
